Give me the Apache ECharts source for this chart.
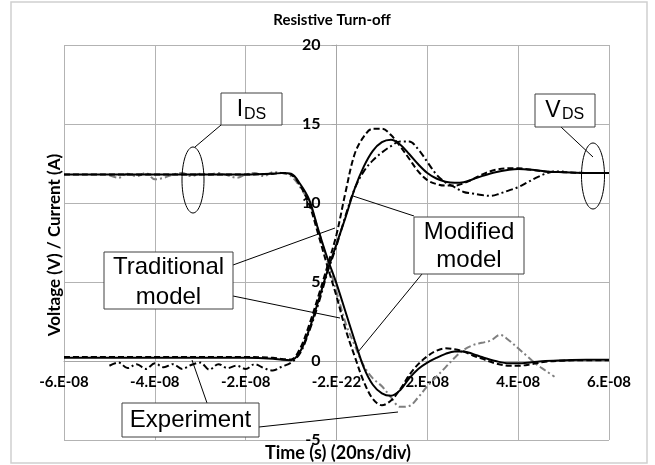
<!DOCTYPE html>
<html>
<head>
<meta charset="utf-8">
<script src="https://cdn.jsdelivr.net/npm/echarts@6/dist/echarts.min.js"></script>
<style>
  html, body { margin: 0; padding: 0; background: #fff; }
  #chart { width: 655px; height: 465px; }
</style>
</head>
<body>
<div id="chart"></div>
<script>
// time axis in ns, ticks shown in seconds like the original sheet
const xTickLabels = ['-6.E-08', '-4.E-08', '-2.E-08', '-2.E-22', '2.E-08', '4.E-08', '6.E-08']
const yTicks = [-5, 0, 5, 10, 15, 20]

// model curves share one time grid (ns)
const modelTime = [-60, -40, -20, -14, -12, -10, -8, -6, -4, -2, 0, 2, 4, 6, 8, 10, 12, 14, 16, 18, 20, 22, 24, 26, 28, 30, 32, 35, 38, 40, 43, 46, 50, 55, 60]
const vdsModified = [0.2, 0.2, 0.2, 0.15, 0.08, 0.05, 0.6, 2.0, 3.8, 5.7, 7.4, 9.1, 10.9, 12.3, 13.3, 13.85, 14.0, 13.7, 13.1, 12.45, 11.9, 11.55, 11.35, 11.28, 11.32, 11.5, 11.7, 11.95, 12.1, 12.15, 12.1, 12.0, 11.95, 11.9, 11.9]
const vdsTraditional = [0.25, 0.25, 0.25, 0.2, 0.12, 0.1, 0.8, 2.3, 4.1, 6.0, 8.0, 10.7, 13.1, 14.2, 14.7, 14.7, 14.3, 13.6, 12.8, 12.0, 11.45, 11.2, 11.1, 11.1, 11.25, 11.5, 11.8, 12.1, 12.2, 12.2, 12.1, 12.0, 11.95, 11.9, 11.9]
const idsModified = [11.8, 11.8, 11.8, 11.85, 11.9, 11.85, 11.2, 10.2, 8.3, 6.5, 4.9, 3.1, 1.3, -0.4, -1.5, -2.05, -2.2, -1.85, -1.1, -0.5, -0.1, 0.2, 0.45, 0.6, 0.6, 0.45, 0.25, 0.0, -0.15, -0.15, -0.08, 0.0, 0.05, 0.08, 0.08]
const idsTraditional = [11.8, 11.8, 11.8, 11.85, 11.9, 11.8, 11.1, 9.9, 8.0, 6.0, 4.1, 2.0, 0.3, -1.3, -2.4, -2.8, -2.5, -1.8, -0.9, -0.2, 0.3, 0.65, 0.8, 0.75, 0.6, 0.35, 0.15, -0.15, -0.3, -0.3, -0.2, -0.05, 0.02, 0.05, 0.05]

// measured waveforms (ns)
const expTime = [-50, -48, -46, -44, -42, -40, -38, -36, -34, -32, -30, -28, -26, -24, -22, -20, -18, -16, -14, -12, -10, -8, -6, -4, -2, 0, 2, 4, 6, 8, 10, 12, 14, 16, 18, 20, 22, 24, 26, 28, 30, 32, 34, 36, 38, 40, 42, 44, 46, 48, 50]
const vdsExperiment = [-0.3, -0.1, -0.45, -0.2, -0.5, -0.15, -0.4, -0.2, -0.5, -0.25, -0.1, -0.55, -0.2, -0.45, -0.3, -0.5, -0.2, -0.45, -0.6, -0.35, -0.1, 0.5, 1.9, 3.6, 5.6, 7.3, 9.2, 10.9, 12.0, 12.7, 13.2, 13.6, 13.9, 13.9, 13.4, 12.6, 11.8, 11.3, 11.0, 10.7, 10.6, 10.5, 10.45, 10.6, 10.8, 11.0, 11.3, 11.6, 11.85, 12.0, 12.0]
const idsExperiment = [11.75, 11.6, 11.85, 11.7, 11.9, 11.5, 11.6, 11.8, 11.9, 11.7, 11.85, 11.8, 11.9, 11.75, 11.6, 11.8, 11.9, 11.7, 11.95, 11.9, 11.7, 11.0, 10.0, 8.3, 6.3, 4.4, 2.4, 1.0, -0.3, -1.1, -1.6, -2.3, -2.9, -2.85, -2.3, -1.6, -1.0, -0.4, 0.2, 0.7, 1.0, 1.15, 1.3, 1.65, 1.3, 0.8, 0.3, -0.2, -0.6, -1.0, null]

const pairs = (xs, ys) => xs.map((x, i) => [x, ys[i]])

const chart = echarts.init(document.getElementById('chart'))
const boldFont = { fontFamily: 'Lato', fontWeight: 'bold', color: '#000' }
const lineCol = '#000'

// plot box, the axes sit on zero so they are pushed in with offset
const gridBox = { left: 64, right: 46, top: 45, bottom: 25 }
const plotW = 655 - gridBox.left - gridBox.right
const plotH = 465 - gridBox.top - gridBox.bottom
const yZeroShift = plotH * (0 - yTicks[0]) / (yTicks[yTicks.length - 1] - yTicks[0])
const xZeroShift = plotW / 2

function curve (name, xs, ys, type, color) {
  return {
    name: name,
    type: 'line',
    data: pairs(xs, ys),
    smooth: 0.35,
    showSymbol: false,
    connectNulls: false,
    lineStyle: { color: color, width: 2, type: type },
    z: 3
  }
}

// annotation helpers (pixel space)
function box (x, y, w, h) {
  return { type: 'rect', shape: { x: x, y: y, width: w, height: h }, style: { fill: '#fff', stroke: '#404040', lineWidth: 1 }, z: 20 }
}
function txt (s, x, y, size, align) {
  return { type: 'text', x: x, y: y, style: { text: s, font: size + 'px "Liberation Sans", Arial', fill: '#000', textAlign: align || 'center', textVerticalAlign: 'middle' }, z: 21 }
}
function seg (x1, y1, x2, y2) {
  return { type: 'line', shape: { x1: x1, y1: y1, x2: x2, y2: y2 }, style: { stroke: '#000', lineWidth: 1 }, z: 19 }
}
function oval (cx, cy, rx, ry) {
  return { type: 'ellipse', shape: { cx: cx, cy: cy, rx: rx, ry: ry }, style: { fill: 'none', stroke: '#000', lineWidth: 1 }, z: 19 }
}

const option = {
  animation: false,
  backgroundColor: '#fff',
  grid: gridBox,
  xAxis: {
    type: 'value',
    min: -60,
    max: 60,
    interval: 20,
    offset: -yZeroShift,
    axisLine: { onZero: false, lineStyle: { color: '#a6a6a6', width: 1 } },
    axisTick: { show: false },
    splitLine: { show: true, lineStyle: { color: '#b3b3b3', width: 1 } },
    axisLabel: {
      ...boldFont,
      fontSize: 15,
      margin: 14,
      formatter: v => xTickLabels[Math.round((v + 60) / 20)]
    }
  },
  yAxis: {
    type: 'value',
    min: yTicks[0],
    max: yTicks[yTicks.length - 1],
    interval: 5,
    offset: -xZeroShift,
    axisLine: { onZero: false, lineStyle: { color: '#a6a6a6', width: 1 } },
    axisTick: { show: true, inside: false, length: 5, lineStyle: { color: '#a6a6a6' } },
    splitLine: { show: true, lineStyle: { color: '#b3b3b3', width: 1 } },
    axisLabel: { ...boldFont, fontSize: 16, margin: 16 }
  },
  series: [
    curve('Experiment VDS', expTime, vdsExperiment, [7, 3, 2, 3], '#000'),
    curve('Experiment IDS', expTime, idsExperiment, [7, 3, 2, 3], '#7f7f7f'),
    curve('Traditional VDS', modelTime, vdsTraditional, [6, 3], lineCol),
    curve('Traditional IDS', modelTime, idsTraditional, [6, 3], lineCol),
    curve('Modified VDS', modelTime, vdsModified, 'solid', lineCol),
    curve('Modified IDS', modelTime, idsModified, 'solid', lineCol)
  ],
  graphic: [
    { type: 'rect', shape: { x: 11, y: 2, width: 636, height: 461 }, style: { fill: 'none', stroke: '#d0d0d0', lineWidth: 1.5 }, z: 30 },
    { type: 'text', x: 332, y: 20, style: { text: 'Resistive Turn-off', font: 'bold 15px Lato', fill: '#000', textAlign: 'center', textVerticalAlign: 'middle' }, z: 30 },
    { type: 'text', x: 338, y: 453, style: { text: 'Time (s) (20ns/div)', font: 'bold 18px Lato', fill: '#000', textAlign: 'center', textVerticalAlign: 'middle' }, z: 30 },
    { type: 'text', x: 55, y: 245, rotation: Math.PI / 2, style: { text: 'Voltage (V) / Current (A)', font: 'bold 17px Lato', fill: '#000', textAlign: 'center', textVerticalAlign: 'middle' }, z: 30 },

    // I_DS
    seg(221, 125, 195, 147),
    oval(193, 180, 11, 33),
    box(221, 93, 61, 32),
    txt('I', 240, 110, 23),
    txt('DS', 244, 115, 16, 'left'),

    // V_DS
    seg(561, 127, 593, 157),
    oval(593, 176, 11.5, 33),
    box(535, 94, 60, 33),
    txt('V', 553, 111, 23),
    txt('DS', 562, 115, 16, 'left'),

    // Traditional model
    seg(233, 265, 335, 228),
    seg(233, 296, 340, 318),
    box(104, 252, 129, 57),
    txt('Traditional', 168.5, 267, 24),
    txt('model', 168.5, 297, 24),

    // Modified model
    seg(414, 216, 353, 196),
    seg(422, 274, 358, 352),
    box(414, 217, 110, 57),
    txt('Modified', 469, 232, 24),
    txt('model', 469, 260, 24),

    // Experiment
    seg(207, 403, 192, 360),
    seg(259, 427, 398, 412),
    box(122, 403, 137, 34),
    txt('Experiment', 190.5, 420, 24)
  ]
}

chart.setOption(option)
</script>
</body>
</html>
